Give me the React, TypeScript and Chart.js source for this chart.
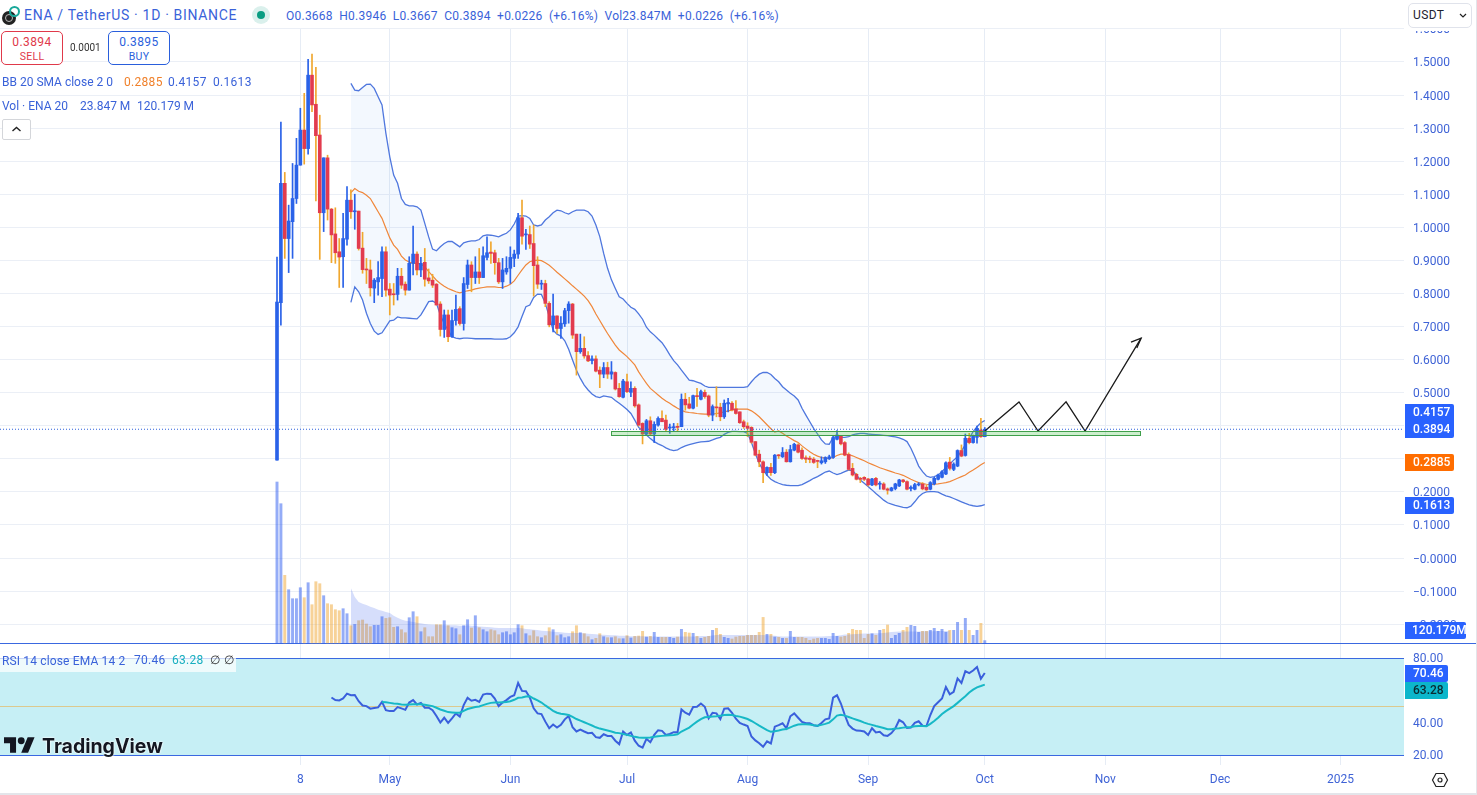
import React, { useEffect, useRef } from "react";
import { Chart, registerables } from "chart.js";

Chart.register(...registerables);

const FONT = "Roboto, 'Noto Sans', sans-serif";

const opens = [
  0.296, 0.772, 1.133, 0.966, 1.017, 1.087, 1.188, 1.294, 1.238, 1.46,
  1.372, 1.279, 1.044, 1.21, 1.055, 0.98, 0.926, 0.911, 0.964, 1.082,
  1.047, 1.049, 0.937, 0.874, 0.871, 0.816, 0.835, 0.845, 0.926, 0.813,
  0.798, 0.797, 0.852, 0.828, 0.81, 0.891, 0.919, 0.871, 0.894, 0.847,
  0.84, 0.828, 0.768, 0.691, 0.735, 0.669, 0.718, 0.754, 0.709, 0.827,
  0.886, 0.848, 0.865, 0.848, 0.909, 0.925, 0.923, 0.893, 0.835, 0.865,
  0.876, 0.906, 0.919, 1.029, 0.977, 0.978, 0.951, 0.886, 0.828, 0.83,
  0.77, 0.705, 0.732, 0.694, 0.708, 0.748, 0.768, 0.677, 0.624, 0.634,
  0.612, 0.597, 0.602, 0.568, 0.556, 0.576, 0.556, 0.561, 0.513, 0.486,
  0.533, 0.501, 0.513, 0.463, 0.407, 0.375, 0.415, 0.375, 0.402, 0.422,
  0.417, 0.393, 0.394, 0.397, 0.397, 0.48, 0.466, 0.453, 0.491, 0.48,
  0.501, 0.49, 0.432, 0.456, 0.456, 0.427, 0.466, 0.468, 0.451, 0.442,
  0.412, 0.399, 0.395, 0.352, 0.314, 0.291, 0.258, 0.274, 0.258, 0.311,
  0.306, 0.32, 0.291, 0.326, 0.342, 0.326, 0.303, 0.302, 0.299, 0.294,
  0.288, 0.291, 0.3, 0.304, 0.359, 0.369, 0.349, 0.313, 0.271, 0.253,
  0.241, 0.244, 0.239, 0.221, 0.241, 0.223, 0.224, 0.209, 0.204, 0.21,
  0.218, 0.236, 0.231, 0.21, 0.208, 0.221, 0.224, 0.214, 0.208, 0.224,
  0.238, 0.244, 0.254, 0.29, 0.268, 0.278, 0.325, 0.31, 0.362, 0.349,
  0.365, 0.387, 0.3668,
];
const closes = [
  0.774, 1.133, 0.966, 1.019, 1.087, 1.188, 1.294, 1.238, 1.46, 1.37,
  1.277, 1.044, 1.21, 1.055, 0.977, 0.923, 0.91, 0.966, 1.082, 1.047,
  1.049, 0.936, 0.872, 0.871, 0.817, 0.84, 0.848, 0.926, 0.81, 0.795,
  0.796, 0.852, 0.825, 0.81, 0.891, 0.919, 0.871, 0.891, 0.843, 0.838,
  0.825, 0.765, 0.691, 0.735, 0.669, 0.718, 0.752, 0.709, 0.83, 0.886,
  0.848, 0.865, 0.848, 0.914, 0.923, 0.921, 0.893, 0.835, 0.871, 0.876,
  0.909, 0.919, 1.029, 0.973, 0.979, 0.949, 0.884, 0.828, 0.83, 0.77,
  0.705, 0.732, 0.694, 0.71, 0.748, 0.768, 0.674, 0.624, 0.634, 0.611,
  0.596, 0.602, 0.565, 0.556, 0.576, 0.556, 0.563, 0.511, 0.488, 0.535,
  0.503, 0.513, 0.46, 0.402, 0.375, 0.415, 0.375, 0.404, 0.422, 0.412,
  0.389, 0.395, 0.397, 0.395, 0.48, 0.463, 0.453, 0.491, 0.488, 0.503,
  0.488, 0.432, 0.458, 0.454, 0.427, 0.468, 0.47, 0.448, 0.437, 0.409,
  0.397, 0.392, 0.35, 0.311, 0.291, 0.258, 0.274, 0.258, 0.311, 0.309,
  0.319, 0.291, 0.328, 0.344, 0.32, 0.301, 0.299, 0.298, 0.289, 0.292,
  0.294, 0.304, 0.306, 0.364, 0.372, 0.345, 0.311, 0.268, 0.251, 0.238,
  0.238, 0.238, 0.221, 0.239, 0.221, 0.226, 0.208, 0.205, 0.212, 0.224,
  0.236, 0.231, 0.208, 0.214, 0.222, 0.224, 0.209, 0.206, 0.228, 0.241,
  0.251, 0.261, 0.288, 0.271, 0.284, 0.325, 0.308, 0.362, 0.349, 0.369,
  0.392, 0.3668, 0.3894,
];
const highs = [
  0.91, 1.318, 1.166, 1.067, 1.193, 1.269, 1.36, 1.405, 1.508, 1.524,
  1.484, 1.339, 1.21, 1.218, 1.057, 1.059, 0.966, 1.042, 1.123, 1.113,
  1.1, 1.049, 0.985, 0.906, 0.901, 0.845, 0.896, 0.941, 0.941, 0.83,
  0.83, 0.876, 0.876, 0.835, 0.911, 1.004, 0.926, 0.909, 0.936, 0.874,
  0.858, 0.83, 0.775, 0.75, 0.75, 0.75, 0.795, 0.76, 0.848, 0.901,
  0.896, 0.911, 0.936, 0.941, 0.971, 0.956, 0.931, 0.906, 0.906, 0.911,
  0.941, 0.931, 1.042, 1.082, 0.994, 1.004, 1.007, 0.911, 0.84, 0.84,
  0.775, 0.798, 0.732, 0.73, 0.755, 0.775, 0.77, 0.677, 0.677, 0.669,
  0.624, 0.611, 0.611, 0.578, 0.591, 0.592, 0.594, 0.563, 0.528, 0.54,
  0.556, 0.533, 0.518, 0.466, 0.409, 0.419, 0.427, 0.412, 0.427, 0.445,
  0.432, 0.405, 0.407, 0.407, 0.496, 0.498, 0.486, 0.493, 0.513, 0.508,
  0.508, 0.493, 0.463, 0.518, 0.468, 0.478, 0.483, 0.473, 0.476, 0.442,
  0.417, 0.409, 0.397, 0.352, 0.326, 0.294, 0.276, 0.286, 0.313, 0.313,
  0.334, 0.328, 0.341, 0.347, 0.345, 0.333, 0.309, 0.308, 0.304, 0.296,
  0.306, 0.306, 0.311, 0.369, 0.385, 0.371, 0.352, 0.318, 0.286, 0.256,
  0.244, 0.246, 0.241, 0.241, 0.244, 0.231, 0.228, 0.212, 0.214, 0.226,
  0.238, 0.238, 0.233, 0.218, 0.226, 0.228, 0.228, 0.22, 0.231, 0.244,
  0.254, 0.264, 0.291, 0.304, 0.288, 0.327, 0.342, 0.375, 0.377, 0.372,
  0.399, 0.422, 0.3946,
];
const lows = [
  0.296, 0.704, 0.906, 0.863, 0.906, 1.072, 1.188, 1.191, 1.221, 1.35,
  1.08, 0.903, 0.987, 1.022, 0.893, 0.891, 0.818, 0.818, 0.946, 1.027,
  0.994, 0.931, 0.861, 0.83, 0.792, 0.772, 0.795, 0.79, 0.792, 0.735,
  0.765, 0.78, 0.815, 0.795, 0.81, 0.856, 0.856, 0.851, 0.822, 0.83,
  0.818, 0.765, 0.671, 0.667, 0.654, 0.667, 0.704, 0.704, 0.689, 0.815,
  0.805, 0.83, 0.83, 0.848, 0.901, 0.891, 0.858, 0.83, 0.815, 0.858,
  0.83, 0.881, 0.906, 0.949, 0.933, 0.936, 0.792, 0.815, 0.812, 0.76,
  0.699, 0.684, 0.679, 0.664, 0.7, 0.71, 0.664, 0.553, 0.619, 0.604,
  0.594, 0.587, 0.563, 0.515, 0.545, 0.543, 0.541, 0.508, 0.486, 0.484,
  0.5, 0.488, 0.456, 0.399, 0.345, 0.372, 0.372, 0.349, 0.399, 0.412,
  0.385, 0.377, 0.385, 0.382, 0.397, 0.447, 0.451, 0.451, 0.458, 0.478,
  0.483, 0.427, 0.415, 0.427, 0.415, 0.422, 0.442, 0.445, 0.435, 0.407,
  0.392, 0.367, 0.347, 0.309, 0.276, 0.228, 0.25, 0.25, 0.255, 0.301,
  0.304, 0.29, 0.29, 0.324, 0.318, 0.298, 0.288, 0.288, 0.286, 0.273,
  0.284, 0.286, 0.298, 0.301, 0.357, 0.342, 0.309, 0.266, 0.248, 0.236,
  0.228, 0.234, 0.218, 0.219, 0.218, 0.208, 0.206, 0.193, 0.202, 0.206,
  0.216, 0.228, 0.206, 0.203, 0.206, 0.218, 0.206, 0.204, 0.206, 0.221,
  0.236, 0.242, 0.252, 0.266, 0.264, 0.276, 0.306, 0.308, 0.345, 0.347,
  0.347, 0.365, 0.3667,
];
const volumes = [
  1610, 1393, 677, 533, 443, 443, 553, 453, 603, 383,
  613, 593, 473, 393, 383, 333, 323, 343, 293, 173,
  186, 223, 230, 190, 163, 177, 177, 263, 246, 253,
  157, 163, 133, 103, 253, 313, 263, 113, 153, 63,
  63, 183, 183, 223, 173, 153, 143, 83, 173, 233,
  150, 273, 153, 133, 113, 133, 123, 83, 103, 113,
  83, 103, 183, 173, 93, 73, 123, 63, 53, 73,
  153, 133, 73, 83, 53, 63, 113, 173, 103, 93,
  63, 33, 47, 93, 63, 53, 53, 63, 43, 43,
  73, 50, 67, 70, 117, 60, 67, 107, 57, 57,
  57, 57, 47, 60, 137, 107, 100, 97, 67, 47,
  57, 67, 127, 147, 87, 57, 47, 40, 60, 67,
  67, 77, 77, 77, 107, 256, 87, 87, 60, 57,
  47, 47, 117, 57, 57, 57, 47, 27, 40, 47,
  47, 47, 37, 97, 67, 60, 67, 97, 137, 127,
  127, 47, 87, 93, 77, 127, 137, 180, 47, 77,
  97, 127, 157, 177, 167, 107, 117, 117, 127, 147,
  117, 137, 107, 127, 127, 207, 127, 247, 127, 77,
  127, 197, 23.847,
];
const volMa = [
  550, 460, 410, 393, 380, 363, 350, 333, 323, 310, 300,
  273, 253, 236, 223, 217, 210, 203, 197, 190, 186,
  183, 183, 180, 177, 177, 177, 177, 173, 173, 177,
  173, 170, 166, 163, 160, 157, 153, 150, 150, 150,
  150, 150, 150, 147, 140, 137, 133, 130, 123, 120,
  117, 113, 110, 107, 103, 100, 100, 100, 100, 97,
  93, 90, 87, 83, 83, 80, 77, 77, 73, 73,
  73, 68, 67, 67, 67, 66, 66, 65, 65, 65,
  65, 65, 65, 65, 65, 65, 65, 65, 65, 70,
  70, 70, 75, 80, 80, 80, 80, 80, 80, 80,
  80, 80, 80, 80, 80, 80, 78, 75, 72, 68,
  66, 66, 66, 65, 65, 65, 65, 65, 65, 66,
  66, 68, 70, 70, 72, 78, 85, 85, 88, 90,
  92, 95, 95, 95, 97, 98, 100, 105, 110, 112,
  114, 115, 115, 115, 116, 116, 117, 118, 118, 118,
  119, 119, 120, 120.179,
];
const bbUpper = [
  1.435, 1.415, 1.413, 1.423, 1.432, 1.433, 1.42, 1.395, 1.37, 1.284, 1.213,
  1.158, 1.133, 1.087, 1.069, 1.065, 1.065, 1.062, 1.052, 1.012, 0.971,
  0.934, 0.929, 0.941, 0.951, 0.957, 0.957, 0.949, 0.941, 0.953, 0.957,
  0.959, 0.959, 0.963, 0.974, 0.977, 0.976, 0.974, 0.971, 0.977, 0.982,
  0.992, 1.01, 1.034, 1.035, 1.034, 1.027, 1.007, 1.004, 1.007, 1.022,
  1.032, 1.044, 1.052, 1.05, 1.044, 1.04, 1.047, 1.052, 1.052, 1.052,
  1.047, 1.034, 1.007, 0.972, 0.921, 0.876, 0.841, 0.815, 0.79, 0.783,
  0.77, 0.758, 0.752, 0.738, 0.722, 0.698, 0.684, 0.674, 0.662, 0.651,
  0.634, 0.614, 0.597, 0.584, 0.568, 0.553, 0.538, 0.536, 0.532, 0.528,
  0.52, 0.516, 0.516, 0.516, 0.516, 0.516, 0.516, 0.516, 0.516, 0.516,
  0.516, 0.518, 0.533, 0.546, 0.556, 0.561, 0.561, 0.555, 0.543, 0.533,
  0.518, 0.508, 0.498, 0.49, 0.478, 0.453, 0.432, 0.412, 0.392, 0.375,
  0.357, 0.345, 0.344, 0.365, 0.367, 0.365, 0.365, 0.367, 0.372, 0.375,
  0.377, 0.377, 0.375, 0.374, 0.373, 0.372, 0.371, 0.37, 0.368, 0.366,
  0.363, 0.359, 0.352, 0.332, 0.306, 0.278, 0.261, 0.248, 0.244, 0.246,
  0.251, 0.261, 0.274, 0.284, 0.296, 0.306, 0.324, 0.342, 0.362, 0.382,
  0.397, 0.409, 0.4157,
];
const bbBasis = [
  1.105, 1.117, 1.109, 1.105, 1.097, 1.087, 1.067, 1.047, 1.027, 0.997, 0.968,
  0.946, 0.933, 0.913, 0.901, 0.895, 0.891, 0.891, 0.889, 0.881, 0.866,
  0.853, 0.84, 0.83, 0.822, 0.815, 0.81, 0.805, 0.802, 0.805, 0.808,
  0.81, 0.814, 0.816, 0.818, 0.82, 0.82, 0.82, 0.818, 0.818, 0.822,
  0.828, 0.838, 0.855, 0.871, 0.886, 0.896, 0.899, 0.901, 0.899, 0.893,
  0.885, 0.875, 0.864, 0.854, 0.844, 0.834, 0.823, 0.813, 0.803, 0.792,
  0.778, 0.76, 0.738, 0.718, 0.698, 0.679, 0.661, 0.644, 0.629, 0.619,
  0.609, 0.597, 0.584, 0.563, 0.545, 0.528, 0.513, 0.503, 0.493, 0.483,
  0.475, 0.468, 0.46, 0.453, 0.447, 0.442, 0.44, 0.439, 0.437, 0.436,
  0.435, 0.435, 0.435, 0.437, 0.439, 0.442, 0.445, 0.447, 0.45, 0.45,
  0.45, 0.45, 0.445, 0.437, 0.427, 0.415, 0.403, 0.391, 0.381, 0.384,
  0.377, 0.369, 0.362, 0.355, 0.349, 0.339, 0.33, 0.321, 0.314, 0.308,
  0.304, 0.302, 0.301, 0.304, 0.31, 0.314, 0.314, 0.313, 0.309, 0.304,
  0.299, 0.294, 0.288, 0.283, 0.278, 0.273, 0.269, 0.265, 0.261, 0.257,
  0.254, 0.25, 0.244, 0.238, 0.233, 0.228, 0.225, 0.223, 0.222, 0.223,
  0.224, 0.226, 0.228, 0.231, 0.236, 0.241, 0.246, 0.251, 0.259, 0.266,
  0.274, 0.282, 0.2885,
];
const bbLower = [
  0.773, 0.82, 0.805, 0.78, 0.74, 0.709, 0.686, 0.676, 0.681, 0.699, 0.717,
  0.719, 0.729, 0.726, 0.726, 0.725, 0.724, 0.723, 0.735, 0.755, 0.775,
  0.777, 0.77, 0.735, 0.709, 0.689, 0.669, 0.665, 0.663, 0.665, 0.665,
  0.664, 0.663, 0.663, 0.663, 0.663, 0.663, 0.662, 0.662, 0.662, 0.663,
  0.669, 0.681, 0.699, 0.73, 0.76, 0.765, 0.788, 0.798, 0.797, 0.77,
  0.73, 0.689, 0.677, 0.671, 0.657, 0.631, 0.599, 0.568, 0.543, 0.523,
  0.508, 0.496, 0.488, 0.485, 0.49, 0.488, 0.486, 0.476, 0.468, 0.459,
  0.449, 0.437, 0.417, 0.395, 0.385, 0.372, 0.361, 0.352, 0.345, 0.34,
  0.333, 0.328, 0.325, 0.327, 0.334, 0.339, 0.343, 0.346, 0.349, 0.351,
  0.352, 0.353, 0.357, 0.362, 0.365, 0.374, 0.38, 0.383, 0.383, 0.382,
  0.382, 0.377, 0.349, 0.316, 0.286, 0.266, 0.25, 0.238, 0.231, 0.226,
  0.222, 0.22, 0.219, 0.219, 0.219, 0.222, 0.228, 0.234, 0.241, 0.246,
  0.253, 0.26, 0.263, 0.257, 0.252, 0.256, 0.261, 0.266, 0.264, 0.251,
  0.236, 0.226, 0.216, 0.206, 0.195, 0.185, 0.175, 0.167, 0.163, 0.159,
  0.156, 0.153, 0.152, 0.157, 0.17, 0.185, 0.195, 0.2, 0.201, 0.201,
  0.199, 0.193, 0.188, 0.185, 0.18, 0.175, 0.17, 0.165, 0.161, 0.158,
  0.156, 0.158, 0.1613,
];
const rsiValues = [
  55.3, 53.7, 53.5, 54.7, 57.7, 56.7, 56.9, 53.0, 50.4, 50.0, 48.4, 48.8, 49.2,
  52.6, 47.5, 46.9, 46.9, 49.4, 48.6, 47.7, 52.2, 53.7, 51.0, 52.0, 49.0, 49.0,
  47.5, 43.9, 39.8, 42.8, 39.6, 42.4, 45.5, 43.5, 50.6, 55.1, 53.3, 53.9, 52.6,
  57.1, 57.7, 57.5, 54.7, 50.0, 52.2, 53.7, 55.7, 56.7, 64.3,
  59.4, 59.2, 55.3, 48.6, 45.5, 45.1, 40.4, 36.3, 38.6, 36.7, 38.4, 41.8, 43.9,
  36.9, 34.3, 35.5, 34.3, 33.3, 33.5, 30.8, 30.4, 32.6, 31.6, 31.6, 28.6, 26.5,
  34.3, 32.2, 33.7, 28.6, 25.5, 24.3, 29.8, 27.7, 32.2, 35.1, 34.7, 32.2, 32.8,
  33.9, 33.9, 47.9, 45.9, 44.7, 49.4, 49.6, 51.6, 49.6, 42.4, 45.9, 45.5, 42.0,
  48.4, 48.6, 45.9, 42.2, 39.6, 38.6, 37.7, 31.2, 28.8, 27.1, 24.9, 28.2, 26.9,
  37.3, 38.2, 39.4, 36.3, 43.7, 45.5, 42.8, 40.2, 39.4, 39.4, 38.2, 37.7, 39.6,
  41.8, 42.4, 55.3, 56.7, 51.6, 44.5, 38.4, 36.1, 34.9, 34.7, 34.3, 32.2, 36.3,
  33.7, 34.1, 32.0, 31.6, 33.3, 36.3, 41.4, 40.0, 36.5, 36.7, 39.6, 40.6, 37.9,
  37.7, 44.5, 50.0, 52.4, 54.7, 61.8, 57.3, 58.8, 67.1, 64.3, 71.6, 70.4, 72.0,
  74.1, 66.9, 70.46,
];
const rsiEma = [
  52.6, 52.4, 52.0, 51.6, 51.4, 51.0, 50.8, 51.0, 51.2, 51.2, 51.2, 50.8, 50.4,
  50.0, 49.0, 47.9, 47.1, 46.3, 46.1, 45.9, 45.9, 47.1, 48.2, 48.8, 49.4, 49.8,
  50.6, 51.4, 52.0, 52.2, 52.2, 52.4, 52.6, 53.0, 53.9, 55.1, 55.3, 55.9, 56.1,
  54.7, 53.5, 52.2, 50.4, 48.8, 47.1, 45.9, 45.3, 44.9, 44.5, 43.3, 42.0, 41.0,
  40.0, 39.0, 38.0, 36.9, 36.1, 35.5, 34.9, 34.3, 33.5, 33.3, 32.8, 32.2, 31.6,
  31.0, 30.6, 30.4, 30.4, 30.6, 31.0, 31.4, 31.6, 31.8, 32.0, 32.2, 32.6, 34.3,
  35.5, 36.7, 38.6, 40.4, 42.0, 43.1, 43.3, 43.5, 43.7, 44.1, 44.5, 44.7, 44.5,
  43.9, 43.5, 42.8, 42.0, 40.8, 39.4, 37.9, 36.5, 35.1, 34.1, 34.5, 34.9, 35.5,
  35.9, 36.9, 37.9, 38.6, 38.8, 38.8, 38.6, 38.2, 37.9, 38.4, 39.0, 39.8, 41.8,
  44.1, 44.7, 44.1, 43.3, 42.4, 41.6, 40.8, 39.8, 39.0, 38.4, 37.7, 37.1, 36.5,
  35.7, 35.7, 36.1, 36.3, 36.7, 36.9, 37.1, 37.5, 37.7, 37.7, 37.5, 39.0, 40.8,
  42.8, 45.1, 46.9, 48.4, 50.0, 52.0, 54.1, 56.1, 58.4, 60.2, 61.6, 62.4, 63.28,
];

const bbStart = 19;
const rsiStart = 14;
const rsiEmaStart = 27;

const xTickDays = [6, 29, 60, 90, 121, 152, 182, 213, 242.5, 273.5];
const xTickLabels = ["8", "May", "Jun", "Jul", "Aug", "Sep", "Oct", "Nov", "Dec", "2025"];
const priceTicks = [-0.2, -0.1, 0, 0.1, 0.2, 0.3, 0.4, 0.5, 0.6, 0.7, 0.8, 0.9, 1, 1.1, 1.2, 1.3, 1.4, 1.5, 1.6];
const priceTickLabels = ["−0.2000", "−0.1000", "−0.0000", "0.1000", "0.2000", "0.3000", "0.4000", "0.5000", "0.6000", "0.7000", "0.8000", "0.9000", "1.0000", "1.1000", "1.2000", "1.3000", "1.4000", "1.5000", "1.6000"];
const rsiTicks = [20, 40, 60, 80];

const lastPrice = 0.3894;
const zoneDays = [85.9, 221.9];
const zonePrices = [0.384, 0.3704];
const pathDays = [182, 190.8, 195.7, 202.9, 207.8, 222.2];
const pathPrices = [0.384, 0.472, 0.384, 0.472, 0.384, 0.665];
const arrowDays = [219.6, 222.2, 221.1];
const arrowPrices = [0.653, 0.665, 0.635];

const BLUE = "#2a62e8";
const RED = "#e23b4e";
const ORANGE_WICK = "#f0a72e";

const series = (values: number[], start: number) => values.map((y, i) => ({ x: i + start, y }));
const isUp = (i: number) => closes[i] >= opens[i];

const panePlugin = {
  id: "panes",
  beforeDatasetsDraw(chart: any) {
    const { ctx, chartArea, scales } = chart;
    const r = scales.rsi;
    const y80 = Math.round(r.getPixelForValue(80));
    const y50 = Math.round(r.getPixelForValue(50));
    const y20 = Math.round(r.getPixelForValue(20));
    ctx.save();
    ctx.fillStyle = "#c6eff5";
    ctx.fillRect(chartArea.left, y80, chartArea.width, y20 - y80);
    ctx.fillStyle = "#3a68e0";
    ctx.fillRect(chartArea.left, y80, chartArea.width, 1);
    ctx.fillRect(chartArea.left, y20, chartArea.width, 1);
    ctx.fillStyle = "#dcc98e";
    ctx.fillRect(chartArea.left, y50, chartArea.width, 1);
    ctx.fillStyle = "#3a68e0";
    ctx.fillRect(0, Math.round(scales.price.bottom), chart.width, 1);
    ctx.restore();
  },
  afterDatasetsDraw(chart: any) {
    const { ctx, scales } = chart;
    const x0 = scales.x.getPixelForValue(zoneDays[0]);
    const x1 = scales.x.getPixelForValue(zoneDays[1]);
    const y0 = scales.price.getPixelForValue(zonePrices[0]);
    const y1 = scales.price.getPixelForValue(zonePrices[1]);
    ctx.save();
    ctx.fillStyle = "rgba(90,200,90,0.3)";
    ctx.fillRect(x0, y0, x1 - x0, y1 - y0);
    ctx.strokeStyle = "#3f9f4a";
    ctx.lineWidth = 1;
    ctx.strokeRect(Math.round(x0) + 0.5, Math.round(y0) + 0.5, Math.round(x1 - x0), Math.round(y1 - y0));
    ctx.restore();
  },
};

function Text({ x, y, color = "#3a62d9", size = 12, weight = 400, children, spacing }: any) {
  return (
    <div
      style={{
        position: "absolute",
        left: x,
        top: y,
        transform: "translateY(-50%)",
        color,
        fontSize: size,
        fontWeight: weight,
        letterSpacing: spacing,
        whiteSpace: "pre",
        lineHeight: 1,
      }}
    >
      {children}
    </div>
  );
}

function Tag({ x = 1405, y, w, h = 17, bg = "#2962ff", color = "#fff", pad = 8, children }: any) {
  return (
    <div
      style={{
        position: "absolute",
        left: x,
        top: y,
        width: w,
        height: h,
        background: bg,
        color,
        fontSize: 12,
        fontWeight: 500,
        lineHeight: h + "px",
        paddingLeft: pad,
        boxSizing: "border-box",
        borderRadius: "0 2px 2px 0",
        whiteSpace: "pre",
      }}
    >
      {children}
    </div>
  );
}

function TradeBox({ x, color, price, label }: any) {
  return (
    <div
      style={{
        position: "absolute",
        left: x,
        top: 31,
        width: 62,
        height: 34,
        boxSizing: "border-box",
        border: `1px solid ${color}`,
        borderRadius: 5,
        color,
        textAlign: "center",
        background: "#fff",
      }}
    >
      <div style={{ fontSize: 12, lineHeight: "13px", marginTop: 4, letterSpacing: "0.4px" }}>{price}</div>
      <div style={{ fontSize: 10.5, lineHeight: "12px", marginTop: 2, letterSpacing: "0.3px" }}>{label}</div>
    </div>
  );
}

export default function App() {
  const ref = useRef<HTMLCanvasElement | null>(null);

  useEffect(() => {
    document.body.style.margin = "0";
    if (!ref.current) return;
    const days = opens.map((_, i) => i);
    const chart = new Chart(ref.current, {
      type: "bar",
      plugins: [panePlugin],
      data: {
        datasets: [
          {
            type: "line",
            label: "Last price",
            yAxisID: "price",
            data: [
              { x: -72, y: lastPrice },
              { x: 290, y: lastPrice },
            ],
            borderColor: "#2a5fdc",
            borderWidth: 1.2,
            borderDash: [1, 2],
            pointRadius: 0,
            order: 1,
          },
          {
            type: "line",
            label: "Path",
            yAxisID: "price",
            data: pathDays.map((x, i) => ({ x, y: pathPrices[i] })),
            borderColor: "#1a1a1a",
            borderWidth: 1.3,
            pointRadius: 0,
            order: 1,
          },
          {
            type: "line",
            label: "Arrow",
            yAxisID: "price",
            data: arrowDays.map((x, i) => ({ x, y: arrowPrices[i] })),
            borderColor: "#1a1a1a",
            borderWidth: 1.3,
            pointRadius: 0,
            order: 1,
          },
          {
            type: "line",
            label: "RSI MA",
            yAxisID: "rsi",
            data: series(rsiEma, rsiEmaStart),
            borderColor: "#17b8c6",
            borderWidth: 2,
            pointRadius: 0,
            order: 2,
          },
          {
            type: "line",
            label: "RSI",
            yAxisID: "rsi",
            data: series(rsiValues, rsiStart),
            borderColor: "#3a5fdc",
            borderWidth: 2,
            pointRadius: 0,
            order: 3,
          },
          {
            label: "Body",
            yAxisID: "price",
            data: days.map((i) => ({ x: i, y: [opens[i], closes[i]] })),
            backgroundColor: days.map((i) => (isUp(i) ? BLUE : RED)),
            barThickness: 3,
            minBarLength: 1,
            grouped: false,
            order: 4,
          },
          {
            label: "Wick",
            yAxisID: "price",
            data: days.map((i) => ({ x: i, y: [lows[i], highs[i]] })),
            backgroundColor: days.map((i) => (isUp(i) ? BLUE : ORANGE_WICK)),
            barThickness: 1,
            grouped: false,
            order: 5,
          },
          {
            type: "line",
            label: "BB basis",
            yAxisID: "price",
            data: series(bbBasis, bbStart),
            borderColor: "#f0873a",
            borderWidth: 1.2,
            pointRadius: 0,
            order: 6,
          },
          {
            type: "line",
            label: "BB upper",
            yAxisID: "price",
            data: series(bbUpper, bbStart),
            borderColor: "#4f77de",
            borderWidth: 1.3,
            pointRadius: 0,
            fill: "+1",
            backgroundColor: "rgba(33,130,243,0.055)",
            order: 7,
          },
          {
            type: "line",
            label: "BB lower",
            yAxisID: "price",
            data: series(bbLower, bbStart),
            borderColor: "#4f77de",
            borderWidth: 1.3,
            pointRadius: 0,
            order: 8,
          },
          {
            type: "line",
            label: "Vol MA",
            yAxisID: "vol",
            data: series(volMa, bbStart),
            borderWidth: 0,
            borderColor: "rgba(0,0,0,0)",
            pointRadius: 0,
            fill: "origin",
            backgroundColor: "rgba(50,90,235,0.2)",
            order: 9,
          },
          {
            label: "Volume",
            yAxisID: "vol",
            data: volumes.map((y, i) => ({ x: i, y })),
            backgroundColor: days.map((i) => (isUp(i) ? "rgba(41,90,240,0.5)" : "rgba(240,165,50,0.5)")),
            barThickness: 2.3,
            grouped: false,
            order: 10,
          },
        ] as any,
      },
      options: {
        responsive: false,
        animation: false,
        events: [],
        layout: { padding: { top: 29 } },
        plugins: { legend: { display: false }, tooltip: { enabled: false } },
        scales: {
          x: {
            type: "linear",
            min: -71.23,
            max: 289.8,
            offset: false,
            border: { display: false },
            grid: { color: "#e6ecf5", drawTicks: false, offset: false },
            ticks: {
              color: "#3f63d6",
              font: { family: FONT, size: 12 },
              padding: 8,
              autoSkip: false,
              maxRotation: 0,
              callback: (v: any) => {
                const k = xTickDays.indexOf(Number(v));
                return k >= 0 ? xTickLabels[k] : "";
              },
            },
            afterBuildTicks: (axis: any) => {
              axis.ticks = xTickDays.map((value) => ({ value }));
            },
            afterFit: (axis: any) => {
              axis.height = 30;
            },
          },
          price: {
            axis: "y",
            type: "linear",
            position: "right",
            stack: "panes",
            stackWeight: 614,
            min: -0.257,
            max: 1.5996,
            border: { display: false },
            grid: { color: "#ebeff6", drawTicks: false },
            ticks: {
              color: "#3f63d6",
              // two-line label with a short line height nudges the text down to sit on the grid line
              font: { family: FONT, size: 12, lineHeight: 0.25 },
              padding: 9,
              autoSkip: false,
              callback: (v: any) => {
                const k = priceTicks.findIndex((t) => Math.abs(t - Number(v)) < 1e-6);
                return k >= 0 ? ["", priceTickLabels[k]] : "";
              },
            },
            afterBuildTicks: (axis: any) => {
              axis.ticks = priceTicks.map((value) => ({ value }));
            },
            afterFit: (axis: any) => {
              axis.width = 73;
            },
          },
          rsi: {
            axis: "y",
            type: "linear",
            position: "right",
            stack: "panes",
            stackWeight: 122,
            min: 13.6,
            max: 89,
            border: { display: false },
            grid: { display: false, drawTicks: false },
            ticks: {
              color: "#3f63d6",
              font: { family: FONT, size: 12, lineHeight: 0.25 },
              padding: 9,
              autoSkip: false,
              callback: (v: any) => ["", Number(v).toFixed(2)],
            },
            afterBuildTicks: (axis: any) => {
              axis.ticks = rsiTicks.map((value) => ({ value }));
            },
            afterFit: (axis: any) => {
              axis.width = 73;
            },
          },
          vol: {
            axis: "y",
            type: "linear",
            display: false,
            min: -1220,
            max: 6140,
          },
        },
      } as any,
    });
    return () => chart.destroy();
  }, []);

  return (
    <div
      style={{
        position: "fixed",
        left: 0,
        top: 0,
        width: 1477,
        height: 795,
        overflow: "hidden",
        background: "#fff",
        fontFamily: FONT,
      }}
    >
      <canvas ref={ref} width={1477} height={795} style={{ position: "absolute", left: 0, top: 0, display: "block" }} />

      {/* top strip and axis clip */}
      <div style={{ position: "absolute", left: 0, top: 0, width: 1477, height: 28, background: "#fff" }} />
      <div style={{ position: "absolute", left: 1405, top: 0, width: 72, height: 31, background: "#fff" }} />

      {/* symbol icon */}
      <div style={{ position: "absolute", left: 2, top: 11, width: 14, height: 14, borderRadius: 7, background: "#222" }} />
      <div style={{ position: "absolute", left: 5, top: 14, width: 8, height: 8, borderRadius: 4, border: "1px solid #bbb", boxSizing: "border-box" }} />
      <div style={{ position: "absolute", left: 9, top: 6, width: 11, height: 11, borderRadius: 6, border: "2px solid #18a89a", boxSizing: "border-box" }} />

      <Text x={24} y={15} size={14} color="#3a62d9" spacing="0.67px">ENA / TetherUS · 1D · BINANCE</Text>
      <div style={{ position: "absolute", left: 252, top: 6, width: 18, height: 18, borderRadius: 9, background: "rgba(8,153,129,0.15)" }} />
      <div style={{ position: "absolute", left: 257, top: 11, width: 8, height: 8, borderRadius: 4, background: "#0a9d82" }} />
      <Text x={286} y={15.5} size={12} spacing="0.24px">O0.3668  H0.3946  L0.3667  C0.3894  +0.0226  (+6.16%)  Vol23.847M  +0.0226  (+6.16%)</Text>

      {/* buy and sell */}
      <TradeBox x={1} color="#e0394a" price="0.3894" label="SELL" />
      <Text x={70} y={48} size={10} color="#333">0.0001</Text>
      <TradeBox x={108} color="#2a5fdc" price="0.3895" label="BUY" />

      {/* indicator legends */}
      <Text x={2} y={81.5}>BB 20 SMA close 2 0</Text>
      <Text x={124} y={81.5} color="#f0802a" spacing="0.3px">0.2885</Text>
      <Text x={168} y={81.5} spacing="0.3px">0.4157</Text>
      <Text x={213} y={81.5} spacing="0.3px">0.1613</Text>
      <Text x={2} y={105.5}>Vol · ENA 20</Text>
      <Text x={80} y={105.5}>23.847 M</Text>
      <Text x={137} y={105.5}>120.179 M</Text>
      <div style={{ position: "absolute", left: 2, top: 119, width: 29, height: 21, boxSizing: "border-box", border: "1px solid #d4d6da", borderRadius: 2, background: "#fff" }}>
        <svg width="27" height="19" style={{ display: "block" }}>
          <path d="M9.5 11 L13.5 7.5 L17.5 11" fill="none" stroke="#222" strokeWidth="1.4" />
        </svg>
      </div>

      {/* RSI legend */}
      <div style={{ position: "absolute", left: 0, top: 645, width: 236, height: 27, background: "rgba(255,255,255,0.72)" }} />
      <Text x={2} y={661} spacing="0.15px">RSI 14 close EMA 14 2</Text>
      <Text x={134} y={660} spacing="0.3px">70.46</Text>
      <Text x={172} y={660} color="#17aebf" spacing="0.3px">63.28</Text>
      <Text x={210} y={660} color="#333">∅</Text>
      <Text x={224} y={660} color="#333">∅</Text>

      {/* TradingView mark */}
      <svg width="31" height="16" viewBox="0 4 36 18" style={{ position: "absolute", left: 4, top: 737 }}>
        <path d="M14 22H7V11H0V4h14v18zM28 22h-8l7.5-18h8L28 22z" fill="#131722" />
        <circle cx="20" cy="8" r="4" fill="#131722" />
      </svg>
      <div
        style={{
          position: "absolute",
          left: 42,
          top: 733,
          fontSize: 19.5,
          fontWeight: 700,
          color: "#131722",
          fontFamily: "Inter, Roboto, sans-serif",
          lineHeight: "26px",
          textShadow: "0 0 2px #fff, 0 0 2px #fff",
        }}
      >
        TradingView
      </div>

      {/* axis tags */}
      <div style={{ position: "absolute", left: 1405, top: 404, width: 49, height: 34, background: "#2962ff", borderRadius: "0 2px 2px 0" }} />
      <Tag y={404} w={49} bg="transparent">0.4157</Tag>
      <Tag y={421} w={49} bg="transparent">0.3894</Tag>
      <Tag y={454} w={49} bg="#ff6d00">0.2885</Tag>
      <Tag y={497} w={49}>0.1613</Tag>
      <Tag y={622} w={61} pad={7}>120.179M</Tag>
      <Tag y={665} w={43}>70.46</Tag>
      <Tag y={682} w={43} bg="#0cb6cb" color="#0b2a30">63.28</Tag>

      {/* currency selector */}
      <div
        style={{
          position: "absolute",
          left: 1408,
          top: 3,
          width: 64,
          height: 25,
          boxSizing: "border-box",
          border: "1px solid #e0e3eb",
          borderRadius: 5,
          background: "#fff",
          color: "#1d2230",
          fontSize: 12,
          lineHeight: "23px",
          paddingLeft: 4,
          letterSpacing: "0.4px",
        }}
      >
        USDT
        <svg width="8" height="6" style={{ position: "absolute", right: 4, top: 9 }}>
          <path d="M1 1 L4 4 L7 1" fill="none" stroke="#222" strokeWidth="1.2" />
        </svg>
      </div>

      {/* settings */}
      <svg width="18" height="16" style={{ position: "absolute", left: 1431, top: 772 }}>
        <path d="M5 1.5 H13 L16.5 8 L13 14.5 H5 L1.5 8 Z" fill="none" stroke="#222" strokeWidth="1.2" />
        <circle cx="9" cy="8" r="2" fill="none" stroke="#222" strokeWidth="1.2" />
      </svg>

      {/* window edges */}
      <div style={{ position: "absolute", left: 0, top: 793, width: 1477, height: 2, background: "#e3e5ea" }} />
      <div style={{ position: "absolute", left: 1476, top: 0, width: 1, height: 795, background: "#e3e5ea" }} />
    </div>
  );
}
